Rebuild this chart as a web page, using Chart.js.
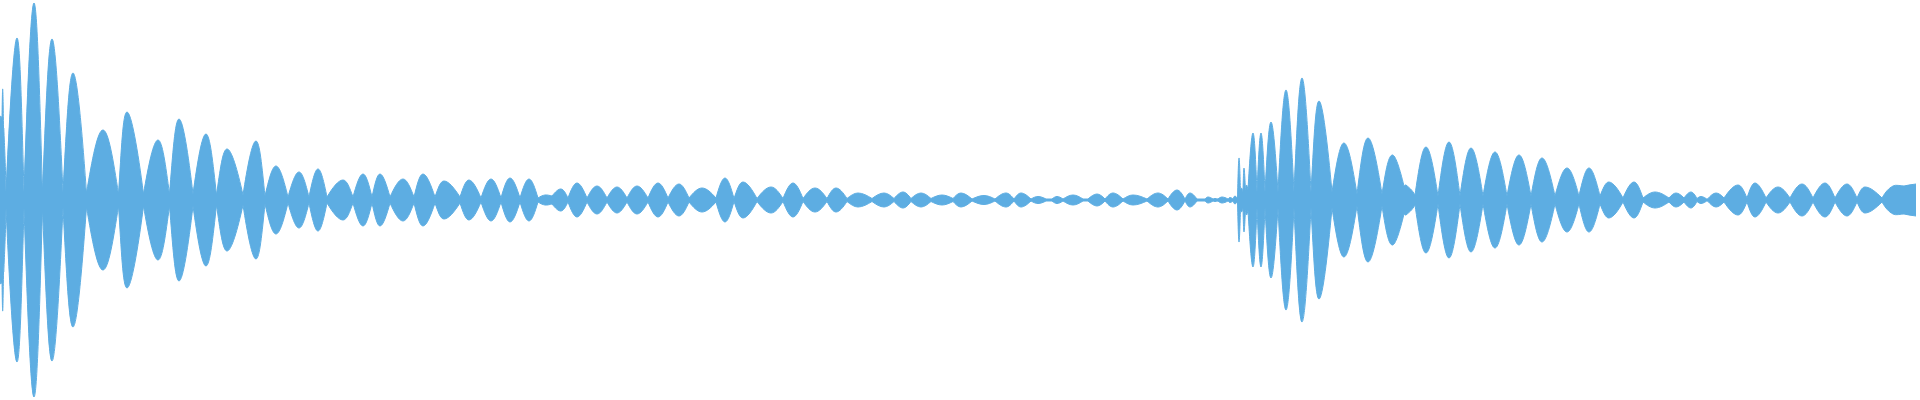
<!DOCTYPE html>
<html>
<head>
<meta charset="utf-8">
<title>Waveform</title>
<script src="https://cdn.jsdelivr.net/npm/chart.js@4/dist/chart.umd.min.js"></script>
<style>
  html, body { margin: 0; padding: 0; background: #fff; }
  #wrap { width: 1920px; height: 400px; }
</style>
</head>
<body>
<div id="wrap"><canvas id="wave"></canvas></div>
<script>
// time axis runs 0..1920 (one unit per column), level is peak amplitude on a +/-200 scale

// where each lobe of the envelope starts / ends
const edges = [
  0, 2, 3.5, 6, 24, 42.5, 63, 86.5, 118.5, 143.5, 169.5, 193, 216.5, 243, 265, 288,
  309, 327, 353, 372, 390, 414, 435, 460, 481, 501, 520, 538, 552, 568, 587, 607,
  627, 648, 668, 689, 716, 734, 757, 783, 803, 827, 847, 872, 894, 911, 931, 953,
  972, 995, 1014, 1031, 1046, 1052, 1063, 1083, 1088, 1105, 1123, 1147, 1168, 1185,
  1197, 1205, 1213, 1218, 1228, 1233, 1237.5, 1240.5, 1243, 1245.5, 1248, 1257, 1265,
  1278, 1294, 1311, 1332, 1357, 1382, 1404, 1415, 1438, 1460, 1483, 1507, 1531, 1555,
  1579, 1600, 1623, 1643, 1669, 1684, 1697, 1706, 1708, 1724, 1747, 1766, 1790, 1813,
  1835, 1857, 1882, 1904, 1920
];

// level left at each of those edges
const edgeLevel = [
  80, 82, 72, 8, 8, 8, 8, 7, 6, 6, 6, 6, 5, 5, 4, 3,
  3, 3, 3, 3, 3, 3, 3, 3, 2, 2, 2, 2, 4, 2, 2, 2,
  2, 2, 2, 2, 2, 1.5, 1.5, 1.5, 1.5, 1.5, 1.5, 1.5, 1.5, 1.5, 1.5, 1.5,
  1, 1, 1, 1, 1, 1, 1, 1, 1, 1, 1, 1, 1, 1,
  1, 1, 1, 1, 1, 1, 1, 8, 8, 8, 10, 8, 8,
  8, 8, 8, 8, 6, 6, 14, 5, 4, 4, 4, 4, 4, 4,
  4, 4, 2, 2, 2, 2, 1.5, 1.5, 1.5, 2, 2, 2, 2,
  2, 2, 2, 2, 14
];

// time of the peak inside each lobe
const peakTime = [
  0.5, 2.7, 3.8, 17, 34, 52, 73, 103, 127, 158, 179, 206, 227, 256, 276,
  299, 318, 343, 363, 380, 403, 423, 444, 469, 491, 510, 529, 545, 561, 577, 597,
  617, 637, 658, 679, 702, 725, 743, 771, 793, 815, 836, 858, 884, 903, 921, 942,
  961, 984, 1006, 1021, 1038, 1049, 1057, 1073, 1085, 1097, 1113, 1133, 1158, 1177,
  1190, 1200, 1208, 1215, 1222, 1230, 1235, 1239, 1241.5, 1244, 1246.5, 1253, 1261,
  1271, 1286, 1302, 1319, 1344, 1368, 1392, 1406, 1426, 1449, 1471, 1495, 1519, 1542,
  1567, 1589, 1609, 1634, 1655, 1676, 1691, 1701, 1707, 1716, 1738, 1755, 1778, 1802,
  1825, 1847, 1865, 1893, 1916
];

// peak level of each lobe
const peakLevel = [
  84, 111, 72, 162, 197, 161, 127, 70, 88, 60, 81, 66, 51, 59, 34,
  28, 31, 20, 26, 26, 21, 26, 19, 20, 21, 22, 21, 5, 11, 17, 14,
  13, 14, 17, 16, 12, 22, 18, 13, 17, 12, 12, 7, 7, 8, 7, 5,
  7, 4.5, 7, 7, 3.5, 1, 3.5, 5, 1, 6, 7, 5, 7, 10,
  7, 1, 3, 1.5, 3, 2.5, 4, 42, 12, 32, 15, 67, 67,
  78, 110, 122, 99, 57, 62, 45, 15, 53, 58, 52, 48, 45, 42,
  32, 32, 18, 18, 8, 7, 8, 3.5, 1, 7, 15, 17, 13, 16,
  17, 16, 13, 14, 16
];

const WAVE_COLOR = "#5dade2";

// every edge is pushed twice so the curve gets a sharp corner there
function buildEnvelope(sign) {
  const pts = [];
  for (let i = 0; i < peakTime.length; i++) {
    pts.push({ x: edges[i], y: sign * edgeLevel[i] });
    pts.push({ x: peakTime[i], y: sign * peakLevel[i] });
    pts.push({ x: edges[i + 1], y: sign * edgeLevel[i + 1] });
  }
  return pts;
}

// steepen the bezier handles at the lobe edges so each lobe bulges like a
// half sine instead of pinching into a neck
const lensShape = {
  id: "lensShape",
  afterDatasetsUpdate(chart) {
    const k = Math.PI / 2;
    chart.data.datasets.forEach((ds, di) => {
      const meta = chart.getDatasetMeta(di);
      meta.dataset.updateControlPoints(chart.chartArea, "x");
      meta.data.forEach((pt, i) => {
        if (i % 3 === 0) pt.cp2y = pt.y + k * (pt.cp2y - pt.y);
        if (i % 3 === 2) pt.cp1y = pt.y + k * (pt.cp1y - pt.y);
      });
    });
  },
};

const ctx = document.getElementById("wave");

new Chart(ctx, {
  type: "line",
  data: {
    datasets: [
      {
        label: "upper",
        data: buildEnvelope(1),
        fill: "origin",
        backgroundColor: WAVE_COLOR,
        borderColor: WAVE_COLOR,
        borderWidth: 1,
        pointRadius: 0,
        tension: 0.34,
      },
      {
        label: "lower",
        data: buildEnvelope(-1),
        fill: "origin",
        backgroundColor: WAVE_COLOR,
        borderColor: WAVE_COLOR,
        borderWidth: 1,
        pointRadius: 0,
        tension: 0.34,
      },
    ],
  },
  options: {
    responsive: true,
    maintainAspectRatio: false,
    animation: false,
    layout: { padding: 0 },
    scales: {
      x: { type: "linear", min: 0, max: 1920, display: false },
      y: { min: -200, max: 200, display: false },
    },
    plugins: {
      legend: { display: false },
      tooltip: { enabled: false },
    },
  },
  plugins: [lensShape],
});
</script>
</body>
</html>
